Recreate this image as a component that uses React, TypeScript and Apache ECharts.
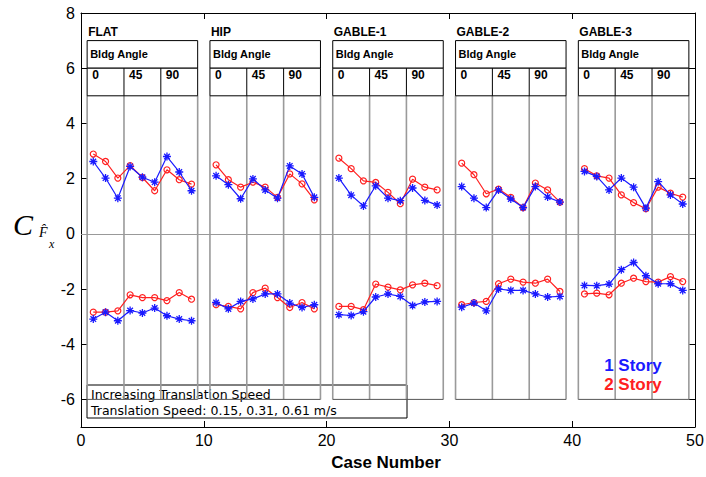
import React, { useEffect, useRef } from "react";
import * as echarts from "echarts";

const panelNames = ["FLAT", "HIP", "GABLE-1", "GABLE-2", "GABLE-3"];
const bldgAngles = ["0", "45", "90"];
const yTicks = [-6, -4, -2, 0, 2, 4, 6, 8];

const caseNumbers = [
  1, 2, 3, 4, 5, 6, 7, 8, 9,
  11, 12, 13, 14, 15, 16, 17, 18, 19,
  21, 22, 23, 24, 25, 26, 27, 28, 29,
  31, 32, 33, 34, 35, 36, 37, 38, 39,
  41, 42, 43, 44, 45, 46, 47, 48, 49,
];

const oneStoryUpper = [
  2.62, 2.02, 1.29, 2.44, 2.05, 1.87, 2.8, 2.24, 1.56,
  2.1, 1.78, 1.27, 1.99, 1.59, 1.29, 2.46, 2.17, 1.32,
  2.02, 1.4, 1.01, 1.74, 1.29, 1.2, 1.66, 1.21, 1.04,
  1.71, 1.29, 0.95, 1.59, 1.26, 0.95, 1.71, 1.33, 1.15,
  2.26, 2.08, 1.59, 2.02, 1.69, 0.93, 1.89, 1.41, 1.08,
];
const twoStoryUpper = [
  2.89, 2.62, 2.02, 2.47, 2.04, 1.56, 2.32, 1.96, 1.8,
  2.5, 1.96, 1.69, 1.87, 1.69, 1.32, 2.17, 1.81, 1.23,
  2.74, 2.36, 1.92, 1.86, 1.5, 1.09, 1.98, 1.69, 1.59,
  2.56, 2.14, 1.45, 1.62, 1.32, 0.95, 1.84, 1.59, 1.15,
  2.36, 2.1, 2.02, 1.41, 1.13, 0.91, 1.69, 1.47, 1.33,
];
const oneStoryLower = [
  -3.09, -2.84, -3.15, -2.78, -2.87, -2.69, -2.97, -3.09, -3.15,
  -2.49, -2.72, -2.45, -2.36, -2.18, -2.18, -2.51, -2.67, -2.57,
  -2.93, -2.96, -2.82, -2.29, -2.18, -2.27, -2.6, -2.47, -2.45,
  -2.66, -2.51, -2.79, -2.0, -2.05, -2.05, -2.18, -2.29, -2.27,
  -1.87, -1.88, -1.82, -1.3, -1.04, -1.52, -1.81, -1.81, -2.05,
];
const twoStoryLower = [
  -2.84, -2.84, -2.79, -2.21, -2.31, -2.31, -2.42, -2.13, -2.37,
  -2.57, -2.63, -2.72, -2.13, -1.97, -2.31, -2.67, -2.49, -2.72,
  -2.63, -2.63, -2.75, -1.82, -1.93, -2.03, -1.85, -1.79, -1.88,
  -2.57, -2.49, -2.45, -1.81, -1.64, -1.75, -1.79, -1.64, -2.09,
  -2.18, -2.15, -2.21, -1.79, -1.61, -1.73, -1.75, -1.55, -1.73,
];

const BLUE = "#1a1aff";
const RED = "#ff2020";
const SANS = "'Liberation Sans', Arial, sans-serif";
const WIDE = "'DejaVu Sans', Verdana, sans-serif";
const SERIF = "'Liberation Serif', 'Times New Roman', serif";
const ASTERISK =
  "path://M5,0L5,10M0,5L10,5M1.5,1.5L8.5,8.5M1.5,8.5L8.5,1.5";

function withGaps(values: number[]) {
  const out: any[] = [];
  for (let i = 0; i < values.length; i++) {
    if (i > 0 && caseNumbers[i] - caseNumbers[i - 1] > 1) {
      out.push([caseNumbers[i] - 1, "-"]);
    }
    out.push([caseNumbers[i], values[i]]);
  }
  return out;
}

function lineSeries(name: string, values: number[], color: string, star: boolean, extra: any = {}) {
  return {
    name,
    type: "line",
    data: withGaps(values),
    connectNulls: false,
    z: star ? 4 : 3,
    symbol: star ? ASTERISK : "circle",
    symbolSize: star ? 8 : 6,
    itemStyle: star
      ? { color: color, borderColor: color, borderWidth: 1.3 }
      : { color: "none", borderColor: color, borderWidth: 1.2 },
    lineStyle: { color, width: 1.2 },
    emphasis: { disabled: true },
    ...extra,
  };
}

function renderPanel(params: any, api: any) {
  const i = api.value(0);
  const x0 = 10 * i + 0.5;
  const c = (x: number, y: number) => api.coord([x, y]);
  const tl = c(x0, 7);
  const br = c(x0 + 9, 6);
  const cellBottom = c(x0, 5)[1];
  const bodyBottom = c(x0, -6)[1];
  const xs = [x0, x0 + 3, x0 + 6, x0 + 9].map((v) => c(v, 0)[0]);
  const children: any[] = [];
  xs.forEach((px) => {
    children.push({
      type: "line",
      shape: { x1: px, y1: cellBottom, x2: px, y2: bodyBottom },
      style: { stroke: "#9a9a9a", lineWidth: 1.6 },
    });
  });
  children.push({
    type: "line",
    shape: { x1: xs[0], y1: bodyBottom, x2: xs[3], y2: bodyBottom },
    style: { stroke: "#555", lineWidth: 1 },
  });
  children.push({
    type: "rect",
    shape: { x: tl[0], y: tl[1], width: br[0] - tl[0], height: br[1] - tl[1] },
    style: { fill: "#fff", stroke: "#000", lineWidth: 1 },
  });
  children.push({
    type: "rect",
    shape: { x: tl[0], y: br[1], width: br[0] - tl[0], height: cellBottom - br[1] },
    style: { fill: "#fff", stroke: "#000", lineWidth: 1 },
  });
  [xs[1], xs[2]].forEach((px) => {
    children.push({
      type: "line",
      shape: { x1: px, y1: br[1], x2: px, y2: cellBottom },
      style: { stroke: "#000", lineWidth: 1 },
    });
  });
  children.push({
    type: "text",
    style: {
      text: panelNames[i],
      x: tl[0] + 1,
      y: tl[1] - 9,
      font: `bold 12px ${SANS}`,
      fill: "#000",
      align: "left",
      verticalAlign: "middle",
      textAlign: "left",
      textVerticalAlign: "middle",
    },
  });
  children.push({
    type: "text",
    style: {
      text: "Bldg Angle",
      x: tl[0] + 3,
      y: (tl[1] + br[1]) / 2,
      font: `bold 11px ${SANS}`,
      fill: "#000",
      align: "left",
      verticalAlign: "middle",
      textAlign: "left",
      textVerticalAlign: "middle",
    },
  });
  bldgAngles.forEach((a, k) => {
    children.push({
      type: "text",
      style: {
        text: a,
        x: xs[k] + 5,
        y: br[1] + 7,
        font: `bold 12px ${SANS}`,
        fill: "#000",
        align: "left",
        verticalAlign: "middle",
        textAlign: "left",
        textVerticalAlign: "middle",
      },
    });
  });
  return { type: "group", children };
}

export default function App() {
  const ref = useRef<HTMLDivElement>(null);
  useEffect(() => {
    if (!ref.current) return;
    const chart = echarts.init(ref.current, null, { renderer: "svg" });
    const axisCommon = {
      type: "value",
      splitLine: { show: false },
      axisLine: { show: true, onZero: false, lineStyle: { color: "#000", width: 1 } },
    };
    const tick = { inside: true, length: 6, lineStyle: { color: "#000" } };
    chart.setOption({
      animation: false,
      backgroundColor: "#fff",
      grid: { left: 81, right: 11, top: 13, bottom: 50, containLabel: false, outerBoundsMode: "none" },
      xAxis: [
        {
          ...axisCommon,
          min: 0,
          max: 50,
          interval: 10,
          position: "bottom",
          axisTick: tick,
          axisLabel: { fontSize: 16, color: "#000", fontFamily: SANS, margin: 5 },
        },
        {
          ...axisCommon,
          min: 0,
          max: 50,
          interval: 10,
          position: "top",
          axisTick: tick,
          axisLabel: { show: false },
        },
      ],
      yAxis: [
        {
          ...axisCommon,
          min: -7,
          max: 8,
          position: "left",
          axisTick: { ...tick, customValues: yTicks },
          axisLabel: { fontSize: 16, color: "#000", fontFamily: SANS, margin: 6, customValues: yTicks },
        },
        {
          ...axisCommon,
          min: -7,
          max: 8,
          position: "right",
          axisTick: { ...tick, customValues: yTicks },
          axisLabel: { show: false, customValues: yTicks },
        },
      ],
      series: [
        {
          type: "custom",
          name: "panels",
          coordinateSystem: "cartesian2d",
          xAxisIndex: 0,
          yAxisIndex: 0,
          data: panelNames.map((_, i) => [i]),
          encode: { x: -1, y: -1 },
          renderItem: renderPanel,
          clip: false,
          silent: true,
          z: 1,
        },
        lineSeries("1 Story", oneStoryUpper, BLUE, true, {
          markLine: {
            silent: true,
            symbol: "none",
            label: { show: false },
            lineStyle: { color: "#999", width: 1, type: "solid" },
            data: [{ yAxis: 0 }],
            z: 2,
          },
        }),
        lineSeries("1 Story ", oneStoryLower, BLUE, true),
        lineSeries("2 Story", twoStoryUpper, RED, false),
        lineSeries("2 Story ", twoStoryLower, RED, false),
      ],
      graphic: [
        {
          type: "group",
          z: 100,
          children: [
            {
              type: "rect",
              shape: { x: 87, y: 385, width: 320, height: 33 },
              style: { fill: "#fff", stroke: "#000", lineWidth: 1 },
            },
            {
              type: "text",
              x: 91,
              y: 394,
              style: {
                text: "Increasing Translation Speed",
                font: `12.5px ${WIDE}`,
                fill: "#000",
                verticalAlign: "middle",
              },
            },
            {
              type: "text",
              x: 91,
              y: 410,
              style: {
                text: "Translation Speed: 0.15, 0.31, 0.61 m/s",
                font: `12.5px ${WIDE}`,
                fill: "#000",
                verticalAlign: "middle",
              },
            },
          ],
        },
        {
          type: "text",
          x: 633,
          y: 365,
          z: 100,
          style: { text: "1 Story", font: `bold 17px ${SANS}`, fill: BLUE, align: "center", verticalAlign: "middle" },
        },
        {
          type: "text",
          x: 633,
          y: 384,
          z: 100,
          style: { text: "2 Story", font: `bold 17px ${SANS}`, fill: RED, align: "center", verticalAlign: "middle" },
        },
        {
          type: "text",
          x: 386,
          y: 462,
          style: { text: "Case Number", font: `bold 17px ${SANS}`, fill: "#000", align: "center", verticalAlign: "middle" },
        },
        {
          type: "text",
          x: 13,
          y: 224,
          style: { text: "C", font: `italic 30px ${SERIF}`, fill: "#000", verticalAlign: "middle" },
        },
        {
          type: "text",
          x: 39,
          y: 232,
          style: { text: "F\u0302", font: `italic 14px ${SERIF}`, fill: "#000", verticalAlign: "middle" },
        },
        {
          type: "text",
          x: 49,
          y: 244,
          style: { text: "x", font: `italic 12px ${SERIF}`, fill: "#000", verticalAlign: "middle" },
        },
      ],
    });
    return () => chart.dispose();
  }, []);
  return <div ref={ref} style={{ width: 706, height: 477, position: "absolute", left: 0, top: 0 }} />;
}
